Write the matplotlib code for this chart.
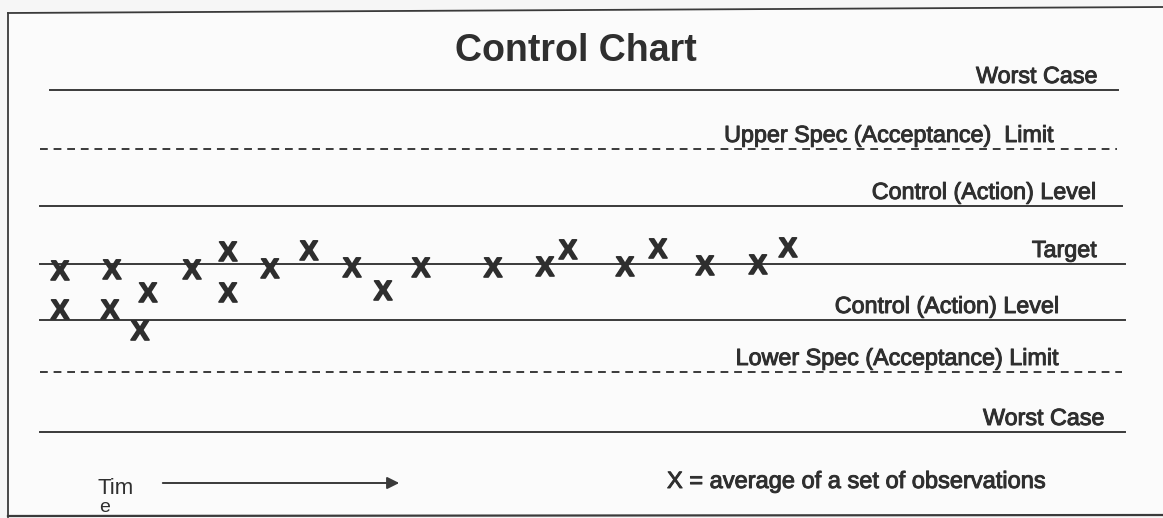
import matplotlib.pyplot as plt
import matplotlib.patheffects as pe
from matplotlib import font_manager

# chart values (pixel units of the 1163x518 picture)
level_names = ['Worst Case', 'Upper Spec (Acceptance)  Limit', 'Control (Action) Level',
               'Target', 'Control (Action) Level', 'Lower Spec (Acceptance) Limit', 'Worst Case']
level_y = [90, 149, 206, 264, 320, 372, 432]
level_dashed = [False, True, False, False, False, True, False]

obs_x = [60, 60, 112, 110, 148, 140, 192, 228, 228, 270, 309, 352, 383, 421,
         493, 545, 568, 625, 658, 705, 758, 788]
obs_y = [273, 312, 272, 312, 295, 333, 272, 254, 295, 271, 253, 270, 293, 270,
         270, 269, 252, 269, 251, 268, 267, 250]

title = 'Control Chart'
note = 'X = average of a set of observations'

names = {f.name for f in font_manager.fontManager.ttflist}
font = 'Liberation Sans' if 'Liberation Sans' in names else 'DejaVu Sans'
plt.rcParams['font.family'] = [font, 'DejaVu Sans']

ink = '#2f2f2f'
line_ink = '#3a3a3a'
heavy = [pe.withStroke(linewidth=0.7, foreground=ink)]

fig = plt.figure(figsize=(11.63, 5.18), dpi=100, facecolor='#f6f6f6')
ax = fig.add_axes([0, 0, 1, 1])
ax.set_xlim(0, 1163)
ax.set_ylim(518, 0)
ax.axis('off')

# frame of the scanned figure
ax.plot([8, 8], [13, 517], color=line_ink, lw=1.3)
ax.plot([8, 1163], [13, 7], color=line_ink, lw=1.3)
ax.plot([8, 1163], [516, 515], color=line_ink, lw=1.6, zorder=5)
ax.fill_between([8, 1163], [13, 7], [516, 515], color='#fbfbfb', zorder=0)

ax.text(576, 51, title, ha='center', va='center', fontsize=27,
        fontweight='bold', color=ink)

label_right = [1098, 1055, 1097, 1097, 1060, 1060, 1105]
line_x0 = [50, 40, 40, 40, 40, 40, 40]
line_x1 = [1118, 1117, 1122, 1125, 1125, 1122, 1125]
for name, y, dashed, xr, x0, x1 in zip(level_names, level_y, level_dashed,
                                       label_right, line_x0, line_x1):
    ax.plot([x0, x1], [y, y], color=line_ink, lw=1.4,
            ls=(0, (4, 3)) if dashed else '-')
    ax.text(xr, y - 7, name, ha='right', va='baseline', fontsize=16.8,
            color=ink, path_effects=heavy)

for x, y in zip(obs_x, obs_y):
    ax.text(x, y, 'X', ha='center', va='center', fontsize=20,
            fontweight='bold', color='#2e2e2e',
            path_effects=[pe.withStroke(linewidth=1.2, foreground='#2e2e2e')])

# time arrow
ax.annotate('', xy=(402, 483), xytext=(160, 483),
            arrowprops=dict(arrowstyle='-|>', color=line_ink, lw=1.4,
                            mutation_scale=18))
ax.text(97, 488, 'Tim', ha='left', va='center', fontsize=16, color=ink)
ax.text(99, 499, 'e', ha='left', va='top', fontsize=14, color=ink)

ax.text(667, 482, note, ha='left', va='center', fontsize=17, color=ink,
        path_effects=heavy)

fig.savefig('out.png', dpi=100, facecolor=fig.get_facecolor())
